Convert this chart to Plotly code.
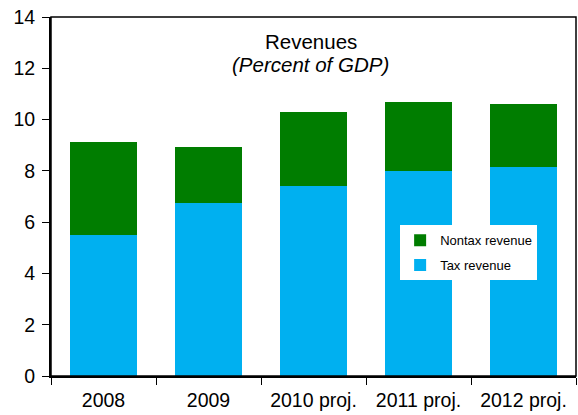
import plotly.graph_objects as go

categories = ["2008", "2009", "2010 proj.", "2011 proj.", "2012 proj."]
tax_revenue = [5.50, 6.73, 7.40, 8.01, 8.17]
nontax_revenue = [3.62, 2.22, 2.90, 2.67, 2.45]
y_ticks = [0, 2, 4, 6, 8, 10, 12, 14]

fig = go.Figure()
fig.add_trace(go.Bar(x=categories, y=tax_revenue, name="Tax revenue",
                     legendgroup="tax", legendrank=2,
                     marker=dict(color="#00B0F0", line=dict(width=0))))
fig.add_trace(go.Bar(x=categories, y=nontax_revenue, name="Nontax revenue",
                     legendgroup="nontax", legendrank=1,
                     marker=dict(color="#007D00", line=dict(width=0))))

font_family = "Liberation Sans, Arial, sans-serif"
fig.update_layout(
    width=578, height=415,
    barmode="stack", bargap=0.37,
    margin=dict(l=51, r=2, t=17, b=39),
    paper_bgcolor="white", plot_bgcolor="white",
    font=dict(family=font_family, color="black"),
    showlegend=True,
    legend=dict(x=0.665, y=0.42, xanchor="left", yanchor="top",
                bgcolor="white", borderwidth=0, traceorder="grouped",
                font=dict(size=13, family=font_family), itemwidth=30,
                tracegroupgap=5),
    xaxis=dict(showline=True, linecolor="black", linewidth=2,
               ticks="outside", tickson="boundaries", ticklen=7, tickcolor="black",
               tickwidth=1, tickfont=dict(size=19.5), showgrid=False,
               ticklabelstandoff=6),
    yaxis=dict(range=[0, 14], tickvals=y_ticks, showline=True, linecolor="black",
               linewidth=2, ticks="outside", ticklen=7, tickcolor="black",
               tickfont=dict(size=19.5), showgrid=False, zeroline=False,
               ticklabelstandoff=3),
    shapes=[dict(type="rect", xref="paper", yref="paper", x0=0, x1=1, y0=0, y1=1,
                 line=dict(color="black", width=1.5))],
    annotations=[
        dict(text="Revenues", x=0.495, y=0.931, xref="paper", yref="paper",
             showarrow=False, font=dict(size=20.5), xanchor="center", yanchor="middle"),
        dict(text="<i>(Percent of GDP)</i>", x=0.495, y=0.867, xref="paper", yref="paper",
             showarrow=False, font=dict(size=20.5), xanchor="center", yanchor="middle"),
    ],
)

fig.write_html("out.html", config={"responsive": False, "displayModeBar": False})

with open("out.html", "r", encoding="utf-8") as f:
    html = f.read()
html = html.replace("<head>", "<head><style>html,body{margin:0;padding:0;overflow:hidden;}</style>", 1)
with open("out.html", "w", encoding="utf-8") as f:
    f.write(html)
